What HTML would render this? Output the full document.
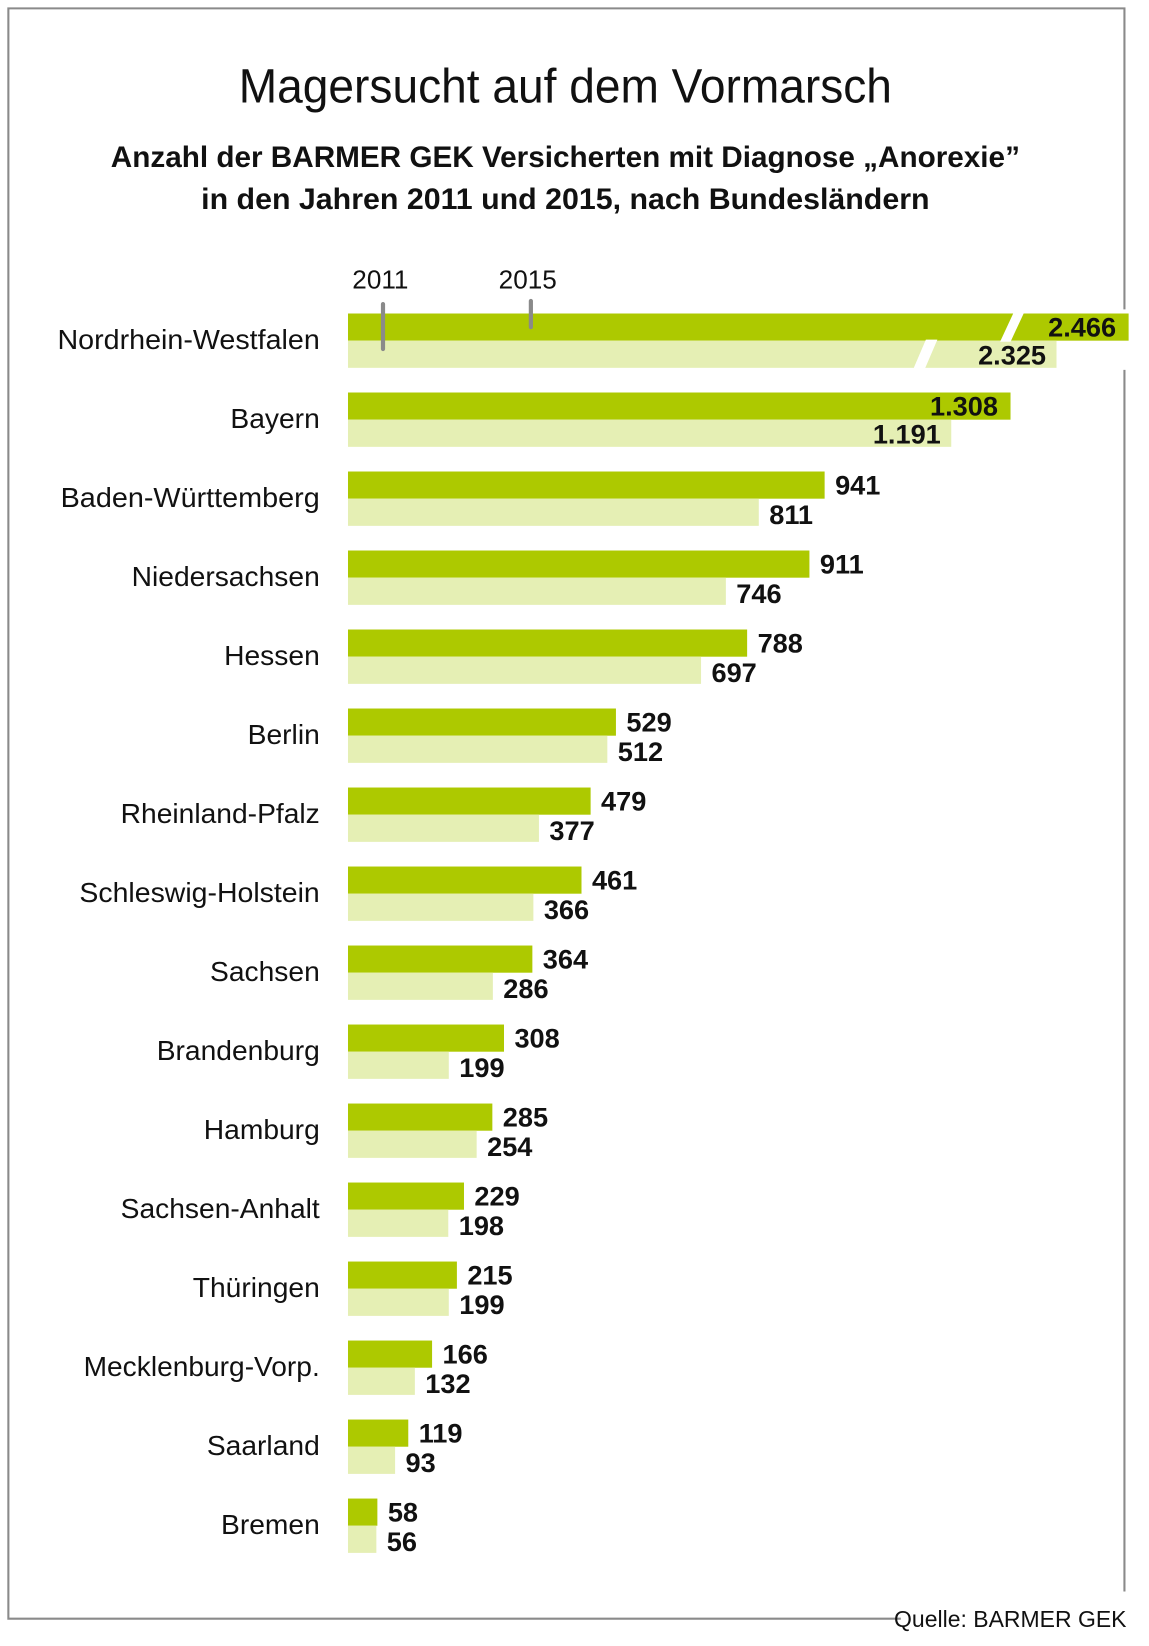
<!DOCTYPE html>
<html><head><meta charset="utf-8"><style>html,body{margin:0;padding:0;background:#fff}svg{display:block}</style></head>
<body>
<svg xmlns="http://www.w3.org/2000/svg" width="1149" height="1646" viewBox="0 0 1099.5 1575.1" font-family="Liberation Sans, sans-serif">
<rect width="1099.5" height="1575.1" fill="#fff"/>
<g stroke="#8a8a8a" stroke-width="2" fill="none">
<path d="M1076 296 V8 H8 V1549 H862"/>
<path d="M1076 354 V1523"/>
</g>
<text x="541" y="98" font-size="46" text-anchor="middle" textLength="625" lengthAdjust="spacingAndGlyphs" fill="#111">Magersucht auf dem Vormarsch</text>
<text x="541" y="160" font-size="28" font-weight="bold" text-anchor="middle" textLength="870" lengthAdjust="spacingAndGlyphs" fill="#111">Anzahl der BARMER GEK Versicherten mit Diagnose „Anorexie”</text>
<text x="541" y="200" font-size="28" font-weight="bold" text-anchor="middle" textLength="697" lengthAdjust="spacingAndGlyphs" fill="#111">in den Jahren 2011 und 2015, nach Bundesländern</text>
<text x="364" y="276" font-size="25" text-anchor="middle" fill="#111">2011</text>
<text x="505" y="276" font-size="25" text-anchor="middle" fill="#111">2015</text>
<g id="bars"></g>
<g font-size="25" fill="#111" id="labels"></g>
<text x="1078" y="1557" font-size="22" text-anchor="end" fill="#111">Quelle: BARMER GEK</text>
</svg>
<script>
var d=[["Nordrhein-Westfalen",2466,2325,251],["Bayern",1308,1191],["Baden-Württemberg",941,811,248],["Niedersachsen",911,746],["Hessen",788,697],["Berlin",529,512],["Rheinland-Pfalz",479,377],["Schleswig-Holstein",461,366,230],["Sachsen",364,286],["Brandenburg",308,199],["Hamburg",285,254],["Sachsen-Anhalt",229,198],["Thüringen",215,199],["Mecklenburg-Vorp.",166,132,226],["Saarland",119,93],["Bremen",58,56]];
var ns="http://www.w3.org/2000/svg",B=document.getElementById("bars"),L=document.getElementById("labels");
function el(p,t,a,txt){var e=document.createElementNS(ns,t);for(var k in a)e.setAttribute(k,a[k]);if(txt!=null)e.textContent=txt;p.appendChild(e);return e;}
var x0=333,s=0.4847;
function fmt(v){return v>=1000?Math.floor(v/1000)+"."+String(v%1000).padStart(3,"0"):String(v);}
d.forEach(function(r,i){
 var t=300+i*75.6;
 var w1=r[1]*s,w2=r[2]*s;
 if(i==0){w1=1080-x0;w2=1011-x0;}
 el(B,"rect",{x:x0,y:t,width:w1,height:26,fill:"#adc900"});
 el(B,"rect",{x:x0,y:t+26,width:w2,height:26,fill:"#e5efb4"});
 var a={x:306,y:t+34,"text-anchor":"end","font-size":"27"};
 if(r[3]){a.textLength=r[3];a.lengthAdjust="spacingAndGlyphs";}
 el(L,"text",a,r[0]);
 if(i<2){
  el(L,"text",{x:x0+w1-12,y:t+22,"text-anchor":"end","font-weight":"bold","font-size":"26"},fmt(r[1]));
  el(L,"text",{x:x0+w2-10,y:t+49,"text-anchor":"end","font-weight":"bold","font-size":"26"},fmt(r[2]));
 } else {
  el(L,"text",{x:x0+w1+10,y:t+22,"font-weight":"bold","font-size":"26"},fmt(r[1]));
  el(L,"text",{x:x0+w2+10,y:t+50,"font-weight":"bold","font-size":"26"},fmt(r[2]));
 }
});
el(B,"polygon",{points:"970,299 980,299 967,327 957,327",fill:"#fff"});
el(B,"polygon",{points:"886,325 897,325 885,353 874,353",fill:"#fff"});
el(B,"line",{x1:366.5,y1:291,x2:366.5,y2:334,stroke:"#8a8a8a","stroke-width":4,"stroke-linecap":"round"});
el(B,"line",{x1:508,y1:288,x2:508,y2:313,stroke:"#8a8a8a","stroke-width":4,"stroke-linecap":"round"});
</script>
</body></html>
